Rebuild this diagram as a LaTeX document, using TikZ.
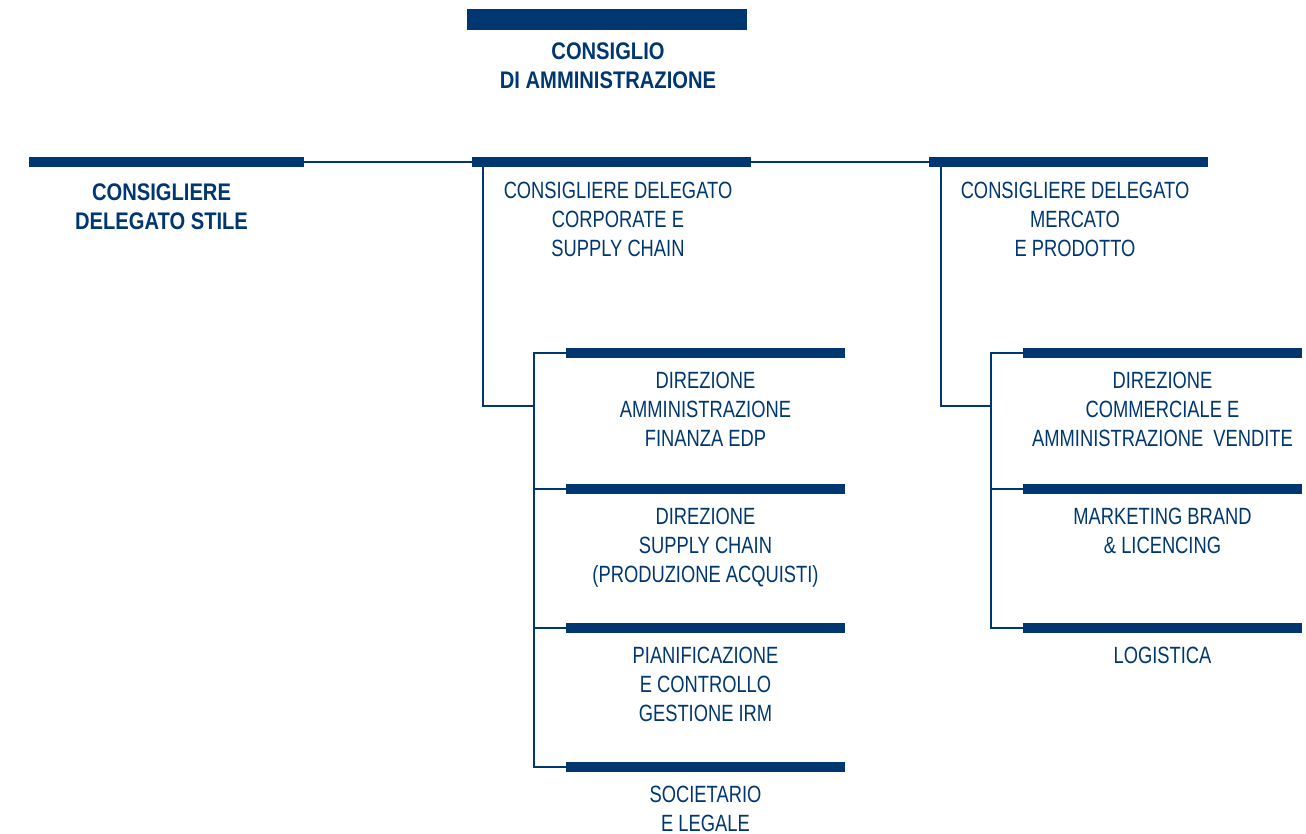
\documentclass[tikz,border=0pt]{standalone}
\usepackage{fontspec}
\setmainfont{Liberation Sans}
\newfontfamily\unitfont[FakeStretch=0.78]{Liberation Sans}
\newfontfamily\headfont[FakeStretch=0.84]{Liberation Sans Bold}
\usepackage{xcolor}
\definecolor{navy}{RGB}{0,55,112}
\usetikzlibrary{positioning}

\begin{document}
\begin{tikzpicture}[x=1pt, y=-1pt,
                line join=miter,
                barnode/.style={fill=navy, inner sep=0pt, minimum width=279pt, minimum height=9.5pt},
                unitlabel/.style={text=navy, align=center, inner sep=0pt, font=\unitfont\fontsize{23.5}{29}\selectfont},
                headlabel/.style={text=navy, align=center, inner sep=0pt, font=\headfont\fontsize{24}{29}\selectfont},
                link/.style={draw=navy, line width=2.6pt}
            ]
                \useasboundingbox (0,0) rectangle (1306,834);

                % Board
                \node[barnode, minimum width=280pt, minimum height=21pt] (cdabar) at (607,20) {};
                \node[headlabel, below=12pt of cdabar, xshift=1pt] (cda) {CONSIGLIO\\DI AMMINISTRAZIONE};

                % Managing directors
                \node[barnode, minimum width=275pt] (stilebar) at (166.5,162) {};
                \node[headlabel, below=17pt of stilebar, xshift=-5pt] (stile) {CONSIGLIERE\\DELEGATO STILE};
                \node[barnode] (corpbar) at (611.5,162) {};
                \node[unitlabel, below=15pt of corpbar, xshift=6.5pt] (corp) {CONSIGLIERE DELEGATO\\CORPORATE E\\SUPPLY CHAIN};
                \node[barnode] (mercbar) at (1068.5,162) {};
                \node[unitlabel, below=15pt of mercbar, xshift=6.5pt] (merc) {CONSIGLIERE DELEGATO\\MERCATO\\E PRODOTTO};

                \draw[link] (stilebar.east) -- (corpbar.west);
                \draw[link] (corpbar.east) -- (mercbar.west);

                % Corporate units
                \foreach \n/\y/\txt in {
                admin/353/{DIREZIONE\\AMMINISTRAZIONE\\FINANZA EDP},
                supply/489/{DIREZIONE\\SUPPLY CHAIN\\(PRODUZIONE ACQUISTI)},
                plan/628/{PIANIFICAZIONE\\E CONTROLLO\\GESTIONE IRM},
                soc/767/{SOCIETARIO\\E LEGALE}} {
                \node[barnode] (\n bar) at (705.5,\y) {};
                \node[unitlabel, below=14pt of \n bar] (\n) {\txt};
            }

            % Market units
            \foreach \n/\y/\txt in {
                comm/353/{DIREZIONE\\COMMERCIALE E\\AMMINISTRAZIONE\ \ VENDITE},
                brand/489/{MARKETING BRAND\\\& LICENCING},
                logi/628/{LOGISTICA}} {
                \node[barnode] (\n bar) at (1162.5,\y) {};
                \node[unitlabel, below=14pt of \n bar] (\n) {\txt};
            }

            % Connectors
            \coordinate (corpdrop) at ([xshift=11pt]corpbar.south west);
            \coordinate (corpjoin) at (534,406);
            \draw[link] (corpdrop) |- (corpjoin);
            \draw[link] (adminbar.west) -- (adminbar.west -| corpjoin) |- (socbar.west);
            \draw[link] (supplybar.west) -- (supplybar.west -| corpjoin);
            \draw[link] (planbar.west) -- (planbar.west -| corpjoin);

            \coordinate (mercdrop) at ([xshift=12pt]mercbar.south west);
            \coordinate (mercjoin) at (991,406);
            \draw[link] (mercdrop) |- (mercjoin);
            \draw[link] (commbar.west) -- (commbar.west -| mercjoin) |- (logibar.west);
            \draw[link] (brandbar.west) -- (brandbar.west -| mercjoin);
            \end{tikzpicture}
\end{document}
